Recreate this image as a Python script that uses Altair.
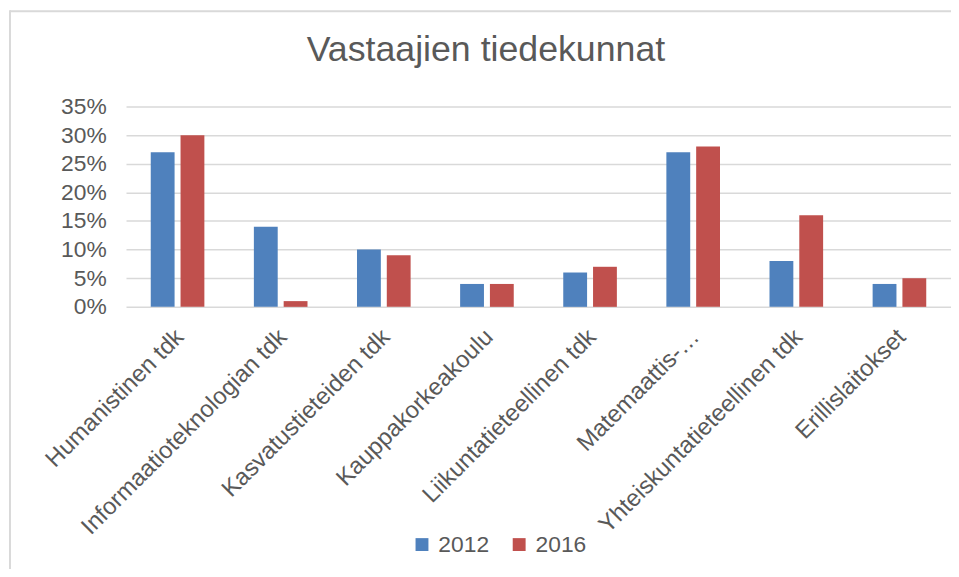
import altair as alt
import pandas as pd

categories = [
    "Humanistinen tdk",
    "Informaatioteknologian tdk",
    "Kasvatustieteiden tdk",
    "Kauppakorkeakoulu",
    "Liikuntatieteellinen tdk",
    "Matemaattis-…",
    "Yhteiskuntatieteellinen tdk",
    "Erillislaitokset",
]
years = ["2012", "2016"]
values_2012 = [27, 14, 10, 4, 6, 27, 8, 4]
values_2016 = [30, 1, 9, 4, 7, 28, 16, 5]
y_ticks = [0, 0.05, 0.10, 0.15, 0.20, 0.25, 0.30, 0.35]
colors = ["#4F81BD", "#C0504D"]
title_text = "Vastaajien tiedekunnat"

rows = []
for c, a, b in zip(categories, values_2012, values_2016):
    rows.append({"cat": c, "year": years[0], "value": a / 100})
    rows.append({"cat": c, "year": years[1], "value": b / 100})
df = pd.DataFrame(rows)

FONT = "Liberation Sans"
TXT = "#595959"
W, H = 832, 202

bars = alt.Chart(df).mark_bar().encode(
    x=alt.X("cat:N", sort=categories, title=None,
            scale=alt.Scale(paddingInner=0.48, paddingOuter=0.24),
            axis=alt.Axis(labelAngle=-45, labelFontSize=24, labelColor=TXT,
                          labelFont=FONT, ticks=False, domain=False,
                          labelPadding=18, labelOffset=-6, labelLimit=400)),
    xOffset=alt.XOffset("year:N", sort=years,
                        scale=alt.Scale(paddingInner=0.2, paddingOuter=0)),
    y=alt.Y("value:Q", title=None,
            scale=alt.Scale(domain=[0, 0.35], nice=False),
            axis=alt.Axis(values=y_ticks, format=".0%", labelFontSize=23,
                          labelColor=TXT, labelFont=FONT, ticks=False,
                          domain=False, labelPadding=20, gridColor="#D9D9D9",
                          gridWidth=1.5)),
    color=alt.Color("year:N", sort=years,
                    scale=alt.Scale(domain=years, range=colors),
                    legend=alt.Legend(title=None, orient="none", direction="horizontal",
                                      legendX=287, legendY=430, symbolType="square",
                                      symbolSize=169, symbolStrokeWidth=0,
                                      labelFontSize=23, labelColor=TXT, labelFont=FONT,
                                      labelOffset=5, columnPadding=18)),
)

border_left = alt.Chart(alt.Data(values=[{}])).mark_rule(color="#D9D9D9", strokeWidth=2).encode(
    x=alt.value(-117), y=alt.value(-97), y2=alt.value(H + 270)
)
border_top = alt.Chart(alt.Data(values=[{}])).mark_rule(color="#D9D9D9", strokeWidth=2).encode(
    x=alt.value(-117), x2=alt.value(W + 10), y=alt.value(-96)
)

chart = alt.layer(bars, border_left, border_top).properties(
    width=W, height=H,
    autosize=alt.AutoSizeParams(type="none"),
    padding={"left": 119, "top": 97, "right": 0, "bottom": 262},
    title=alt.TitleParams(title_text, fontSize=36, font=FONT, color=TXT,
                          fontWeight="normal", anchor="middle", frame="group",
                          dx=-53, dy=134, offset=46, baseline="alphabetic"),
).configure_view(stroke=None)

chart.save("out.html", embed_options={"renderer": "svg", "actions": False})
